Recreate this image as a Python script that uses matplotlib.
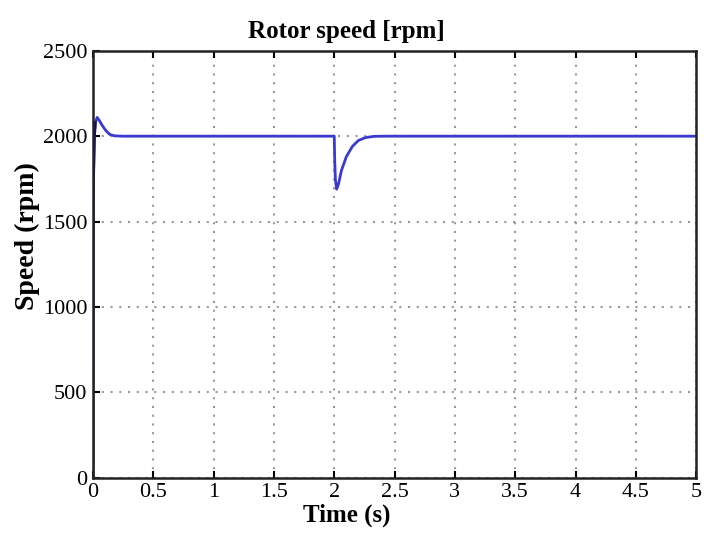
import numpy as np
import matplotlib.pyplot as plt

# speed response
t = [0.0, 0.0, 0.002, 0.006, 0.012, 0.02, 0.035, 0.05, 0.08, 0.11, 0.14, 0.18, 0.25,
     2.0, 2.004, 2.01, 2.02, 2.035, 2.06, 2.1, 2.15, 2.2, 2.26, 2.33, 2.4, 5.0]
speed = [0, 0, 1550, 1800, 2000, 2080, 2110, 2095, 2060, 2030, 2010, 2002, 2000,
         2000, 1850, 1740, 1690, 1720, 1800, 1880, 1940, 1975, 1992, 1999, 2000, 2000]

xticks = [0, 0.5, 1, 1.5, 2, 2.5, 3, 3.5, 4, 4.5, 5]
xlabels = ['0', '0.5', '1', '1.5', '2', '2.5', '3', '3.5', '4', '4.5', '5']
yticks = [0, 500, 1000, 1500, 2000, 2500]

plt.rcParams['font.family'] = ['Liberation Serif', 'DejaVu Serif']

fig = plt.figure(figsize=(7.04, 5.4), dpi=100)
ax = fig.add_axes([0.132, 0.115, 0.857, 0.791])

ax.plot(t, speed, color='#3a3ad0', linewidth=2)
# dark start-up transient (overlapped trace)
ax.plot(t[1:6], speed[1:6], color='#101060', linewidth=2)

ax.set_xlim(0, 5)
ax.set_ylim(0, 2500)
ax.set_xticks(xticks)
ax.set_xticklabels(xlabels)
ax.set_yticks(yticks)
ax.grid(True, color='#999999', linestyle=(0, (1, 3.2)), linewidth=1.5)

ax.tick_params(direction='in', length=5, width=1.5, labelsize=16, top=True, right=False, pad=4)
for s in ax.spines.values():
    s.set_linewidth(1.8)
    s.set_color('#222222')

ax.set_title('Rotor speed [rpm]', fontsize=18, fontweight='bold', x=0.42, pad=9)
ax.set_xlabel('Time (s)', fontsize=18, fontweight='bold', labelpad=1, x=0.42)
ax.set_ylabel('Speed (rpm)', fontsize=20, fontweight='bold', labelpad=2, y=0.567)

plt.savefig('out.png', dpi=100)
